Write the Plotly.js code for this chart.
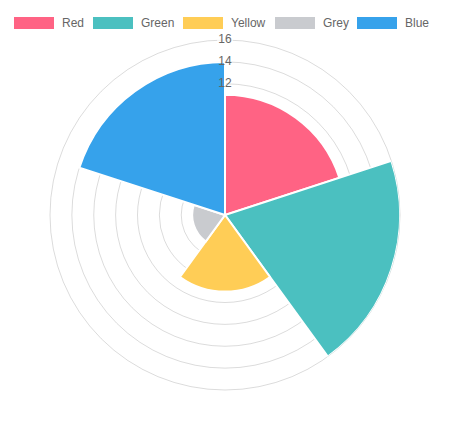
<!DOCTYPE html>
<html><head><meta charset="utf-8">
<script src="https://cdn.plot.ly/plotly-3.0.1.min.js"></script>
<style>html,body{margin:0;padding:0;background:#fff}#chart{width:459px;height:422px}</style>
</head><body><div id="chart"></div>
<script>
const categories = ['Red','Green','Yellow','Grey','Blue'];
const values = [11, 16, 7, 3, 14];
const colors = ['rgb(255,99,132)','rgb(75,192,192)','rgb(255,205,86)','rgb(201,203,207)','rgb(54,162,235)'];
const gridVals = [0,2,4,6,8,10,12,14,16];
// tick labels that are not hidden by the slices
const labelVals = [12,14,16];
const tickLabels = ['12','14','16'];

const sector = 360 / categories.length;
const traces = categories.map((c, i) => ({
  type: 'barpolar',
  name: c,
  r: [values[i]],
  theta: [sector * i + sector / 2],
  width: [sector],
  marker: {color: colors[i], line: {color: '#fff', width: 2}},
  hoverinfo: 'skip',
  showlegend: false
}));
traces.push({
  type: 'scatterpolar', mode: 'markers+text',
  r: labelVals, theta: labelVals.map(() => 0),
  text: tickLabels, textposition: 'middle center',
  marker: {symbol: 'square', size: [0, 0, 15], color: '#fff'},
  textfont: {family:'Liberation Sans, Arial, sans-serif', size:12, color:'#666'},
  hoverinfo: 'skip', showlegend: false, cliponaxis: false
});

// manual legend (Chart.js style wide boxes)
const legX = [14, 93, 183, 275, 357];
const shapes = [], annotations = [];
categories.forEach((c, i) => {
  shapes.push({type:'rect', xref:'paper', yref:'paper',
    x0: legX[i]/459, x1: (legX[i]+40)/459, y0: 1-29/422, y1: 1-17/422,
    fillcolor: colors[i], line:{width:0}});
  annotations.push({xref:'paper', yref:'paper', x:(legX[i]+46)/459, y:1-23/422,
    xanchor:'left', yanchor:'middle', text:c, showarrow:false,
    font:{family:'Liberation Sans, Arial, sans-serif', size:12, color:'#666'}});
});

const layout = {
  width: 459, height: 422,
  margin: {l:0, r:0, t:0, b:0},
  paper_bgcolor: '#fff',
  showlegend: false,
  shapes, annotations,
  polar: {
    domain: {x:[50/459, 400/459], y:[1-390/422, 1-40/422]},
    bgcolor: '#fff',
    bargap: 0,
    radialaxis: {
      range: [0,16], tickvals: gridVals, showticklabels: false,
      showline: false, ticks: '', angle: 90,
      gridcolor: 'rgba(0,0,0,0.14)', layer: 'below traces'
    },
    angularaxis: {
      rotation: 90, direction: 'clockwise',
      showgrid: false, showticklabels: false, ticks: '',
      showline: true, linecolor: 'rgba(0,0,0,0.14)', linewidth: 1,
      layer: 'below traces'
    }
  }
};
Plotly.newPlot('chart', traces, layout, {displayModeBar:false, staticPlot:true});
</script></body></html>
